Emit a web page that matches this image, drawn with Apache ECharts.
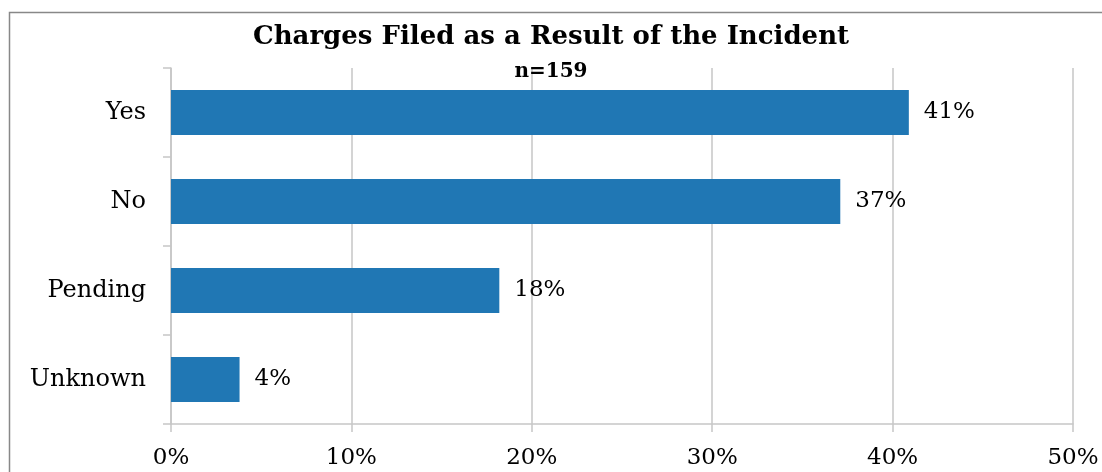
<!DOCTYPE html>
<html>
<head>
<meta charset="utf-8">
<script src="https://cdn.jsdelivr.net/npm/echarts@6/dist/echarts.min.js"></script>
<style>html,body{margin:0;padding:0;background:#fff}#c{width:1102px;height:472px}</style>
</head>
<body>
<div id="c"></div>
<script>
const categories = ['Yes', 'No', 'Pending', 'Unknown'];
const values = [40.9, 37.1, 18.2, 3.8];
const xTicks = [0, 10, 20, 30, 40, 50];
const titleText = 'Charges Filed as a Result of the Incident';
const subtitleText = 'n=159';

const FONT = '"DejaVu Serif", "Liberation Serif", serif';
const chart = echarts.init(document.getElementById('c'));
chart.setOption({
  animation: false,
  backgroundColor: '#fff',
  graphic: [{
    type: 'rect', left: 7, top: 10, silent: true,
    shape: { width: 1100, height: 470 },
    style: { fill: 'none', stroke: '#888', lineWidth: 1.5 }
  }],
  title: {
    text: titleText,
    subtext: subtitleText,
    left: 'center', top: 19, itemGap: 12,
    textStyle: { fontFamily: FONT, fontWeight: 'bold', fontSize: 26, color: '#000' },
    subtextStyle: { fontFamily: FONT, fontWeight: 'bold', fontSize: 20, color: '#000' }
  },
  grid: { left: 171, right: 29, top: 68, bottom: 48 },
  xAxis: {
    type: 'value', min: xTicks[0], max: xTicks[xTicks.length - 1], interval: 10,
    axisLine: { show: true, lineStyle: { color: '#c6c6c6', width: 1.5 } },
    axisTick: { show: true, length: 8, lineStyle: { color: '#c6c6c6', width: 1.5 } },
    splitLine: { show: true, lineStyle: { color: '#c6c6c6', width: 1.5 } },
    axisLabel: { formatter: v => v + '%', fontFamily: FONT, fontSize: 23, color: '#000', margin: 23 }
  },
  yAxis: {
    type: 'category', data: categories, inverse: true,
    axisLine: { show: true, lineStyle: { color: '#c6c6c6', width: 1.5 } },
    axisTick: { show: true, length: 8, lineStyle: { color: '#c6c6c6', width: 1.5 } },
    axisLabel: { fontFamily: FONT, fontSize: 24, color: '#000', margin: 25 }
  },
  series: [{
    type: 'bar', data: values, barWidth: '50.5%',
    itemStyle: { color: '#2077b4' },
    label: {
      show: true, position: 'right', distance: 15,
      formatter: p => Math.round(p.value) + '%',
      fontFamily: FONT, fontSize: 23, color: '#000'
    }
  }]
});
</script>
</body>
</html>
